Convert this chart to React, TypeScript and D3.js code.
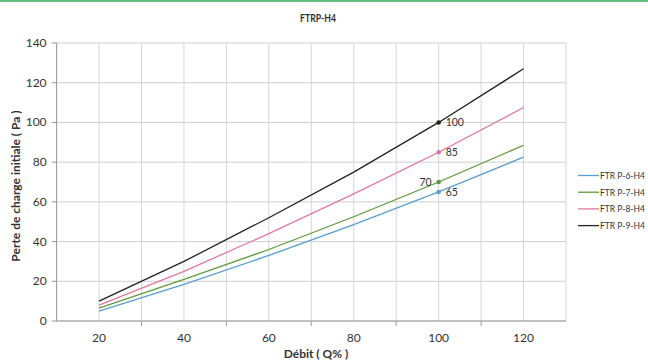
import React from "react";
import * as d3 from "d3";

const xValues = [20, 40, 60, 80, 100, 120];
const seriesNames = ["FTR P-6-H4", "FTR P-7-H4", "FTR P-8-H4", "FTR P-9-H4"];
const seriesColors = ["#5b9fd0", "#5e9a3c", "#e2779f", "#222222"];
const p6 = [5, 18.5, 33, 48.5, 65, 82.5];
const p7 = [6.5, 21, 36, 52.5, 70, 88.5];
const p8 = [8, 25, 44, 64, 85, 107.5];
const p9 = [10, 30, 52, 75, 100, 127];
const seriesValues = [p6, p7, p8, p9];
const markerX = 100;
const markerLabels = ["65", "70", "85", "100"];
const xTickLabels = [20, 40, 60, 80, 100, 120];
const yTickLabels = [0, 20, 40, 60, 80, 100, 120, 140];
const xGrid = [10, 20, 30, 40, 50, 60, 70, 80, 90, 100, 110, 120, 130];
const xMinorTicks = [30, 50, 70, 90, 110];

export default function App() {
  const W = 648, H = 362;
  const left = 56.6, right = 566, top = 43, bottom = 321;
  const x = d3.scaleLinear().domain([10, 130]).range([left, right]);
  const y = d3.scaleLinear().domain([0, 140]).range([bottom, top]);
  const line = d3.line<number>().x((_, i) => x(xValues[i])).y((d) => y(d));
  const font = "Lato, 'Open Sans', sans-serif";
  const mi = xValues.indexOf(markerX);

  return (
    <svg width={W} height={H} style={{ position: "absolute", left: 0, top: 0, background: "#fff" }} fontFamily={font}>
      <rect x={0} y={0} width={W} height={2} fill="#62bd7e" />
      <text x={318} y={22} textAnchor="middle" fontSize={12} fontWeight="bold" fill="#333" textLength={36} lengthAdjust="spacingAndGlyphs">FTRP-H4</text>
      {yTickLabels.map((v) => (
        <line key={"gy" + v} x1={left} x2={right} y1={y(v)} y2={y(v)} stroke="#cfcfcf" strokeWidth={1} />
      ))}
      {xGrid.map((v) => (
        <line key={"gx" + v} x1={x(v)} x2={x(v)} y1={top} y2={bottom} stroke="#d6d6d6" strokeWidth={1} />
      ))}
      <line x1={left} x2={right} y1={bottom} y2={bottom} stroke="#9a9a9a" strokeWidth={1} />
      <line x1={left} x2={left} y1={top} y2={bottom} stroke="#9a9a9a" strokeWidth={1} />
      {yTickLabels.map((v) => (
        <g key={"yt" + v}>
          <line x1={left - 5} x2={left} y1={y(v)} y2={y(v)} stroke="#9a9a9a" />
          <text x={left - 10} y={y(v) + 4} textAnchor="end" fontSize={12} fill="#333">{v}</text>
        </g>
      ))}
      {xMinorTicks.map((v) => (
        <line key={"xt" + v} x1={x(v)} x2={x(v)} y1={bottom} y2={bottom + 5} stroke="#9a9a9a" />
      ))}
      {xTickLabels.map((v) => (
        <text key={"xl" + v} x={x(v)} y={bottom + 21} textAnchor="middle" fontSize={12} fill="#333">{v}</text>
      ))}
      {seriesValues.map((vals, i) => (
        <path key={"s" + i} d={line(vals) || ""} fill="none" stroke={seriesColors[i]} strokeWidth={1.3} />
      ))}
      {seriesValues.map((vals, i) => (
        <g key={"m" + i}>
          <circle cx={x(markerX)} cy={y(vals[mi])} r={2.3} fill={seriesColors[i]} />
          <text
            x={i === 1 ? x(markerX) - 7 : x(markerX) + 7}
            y={y(vals[mi]) + 4}
            textAnchor={i === 1 ? "end" : "start"}
            fontSize={10.5}
            fill="#333"
          >{markerLabels[i]}</text>
        </g>
      ))}
      <text x={316} y={358} textAnchor="middle" fontSize={12} fontWeight="bold" fill="#333">Débit  ( Q% )</text>
      <text transform={`translate(20, ${(top + bottom) / 2 + 4}) rotate(-90)`} textAnchor="middle" fontSize={12} fontWeight="bold" fill="#333">Perte de charge initiale  ( Pa )</text>
      {seriesNames.map((n, i) => {
        const ly = 175.5 + i * 16.7;
        return (
          <g key={"lg" + i}>
            <line x1={578} x2={599} y1={ly} y2={ly} stroke={seriesColors[i]} strokeWidth={1.3} />
            <text x={600} y={ly + 3.5} fontSize={8.5} fill="#333">{n}</text>
          </g>
        );
      })}
    </svg>
  );
}
